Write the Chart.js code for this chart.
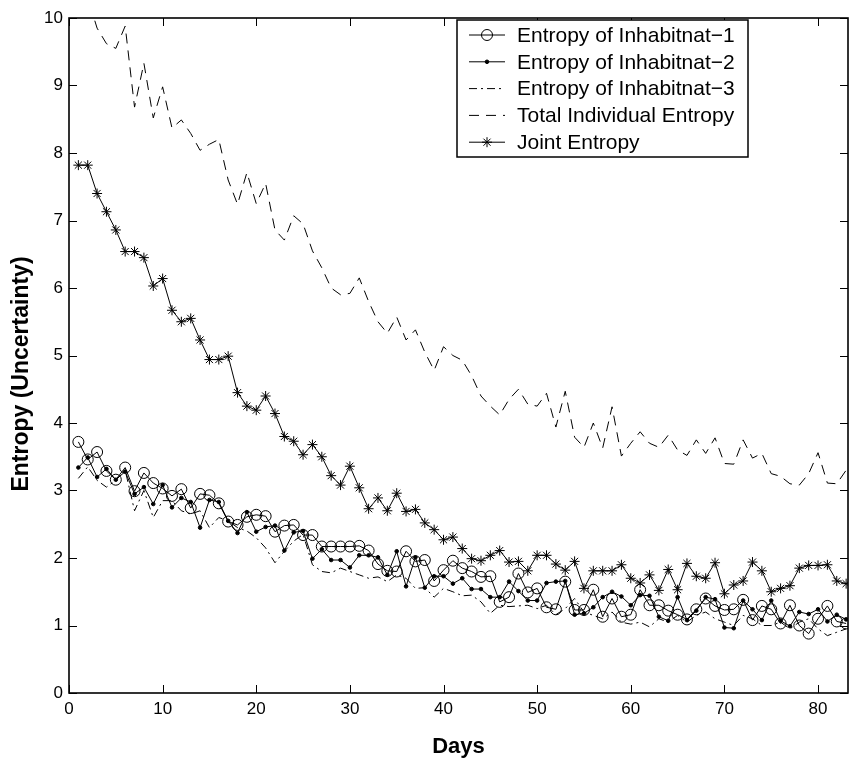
<!DOCTYPE html>
<html>
<head>
<meta charset="utf-8">
<script src="https://cdn.jsdelivr.net/npm/chart.js@4.4.0/dist/chart.umd.min.js"></script>
<style>
  html, body { margin: 0; padding: 0; background: #fff; overflow: hidden; }
  canvas { display: block; }
</style>
</head>
<body>
<canvas id="chart" width="849" height="763"></canvas>
<script>
// days 1..83 on the x axis
const days = Array.from({ length: 83 }, (_, i) => i + 1);
const xTicks = [0, 10, 20, 30, 40, 50, 60, 70, 80];
const yTicks = [0, 1, 2, 3, 4, 5, 6, 7, 8, 9, 10];

const inhabitant1 = [
  3.72, 3.46, 3.57, 3.29, 3.16, 3.34, 2.99, 3.26, 3.11, 3.03,
  2.92, 3.02, 2.74, 2.95, 2.93, 2.81, 2.54, 2.49, 2.61, 2.64,
  2.62, 2.39, 2.48, 2.49, 2.34, 2.34, 2.17, 2.17, 2.17, 2.17,
  2.18, 2.11, 1.91, 1.81, 1.80, 2.10, 1.95, 1.97, 1.66, 1.82,
  1.96, 1.85, 1.80, 1.72, 1.73, 1.35, 1.42, 1.77, 1.49, 1.55,
  1.27, 1.24, 1.65, 1.23, 1.23, 1.53, 1.13, 1.40, 1.13, 1.16,
  1.53, 1.30, 1.30, 1.22, 1.16, 1.09, 1.24, 1.40, 1.29, 1.23,
  1.24, 1.38, 1.08, 1.29, 1.24, 1.03, 1.30, 1.00, 0.88, 1.10,
  1.29, 1.06, 1.03
];
const inhabitant2 = [
  3.34, 3.49, 3.20, 3.32, 3.16, 3.28, 2.95, 3.05, 2.80, 3.08,
  2.75, 2.89, 2.83, 2.45, 2.86, 2.83, 2.55, 2.37, 2.68, 2.39,
  2.46, 2.48, 2.11, 2.38, 2.40, 1.99, 2.13, 1.97, 1.97, 1.86,
  2.04, 2.04, 2.01, 1.75, 2.10, 1.58, 2.01, 1.56, 1.73, 1.73,
  1.62, 1.70, 1.54, 1.54, 1.42, 1.42, 1.65, 1.51, 1.37, 1.37,
  1.63, 1.65, 1.66, 1.16, 1.18, 1.27, 1.42, 1.50, 1.43, 1.30,
  1.45, 1.44, 1.13, 1.07, 1.42, 1.08, 1.22, 1.42, 1.39, 0.97,
  0.96, 1.37, 1.24, 1.08, 1.37, 1.07, 0.99, 1.20, 1.17, 1.24,
  1.06, 1.16, 1.09
];
const inhabitant3 = [
  3.18, 3.35, 3.15, 3.05, 3.15, 3.30, 2.70, 3.00, 2.60, 2.85,
  2.85, 2.70, 2.65, 2.70, 2.45, 2.60, 2.55, 2.45, 2.40, 2.30,
  2.15, 1.93, 2.10, 2.25, 2.35, 1.90, 1.80, 1.78, 1.85, 1.80,
  1.75, 1.70, 1.72, 1.65, 1.75, 1.70, 1.55, 1.56, 1.42, 1.55,
  1.50, 1.44, 1.45, 1.35, 1.18, 1.30, 1.28, 1.29, 1.30, 1.25,
  1.30, 1.16, 1.25, 1.40, 1.20, 1.15, 1.10, 1.20, 1.05, 1.02,
  1.05, 0.98, 1.10, 1.05, 1.15, 1.05, 1.15, 1.20, 1.10, 1.05,
  1.00, 1.15, 1.10, 1.00, 1.00, 1.05, 0.95, 1.05, 1.10, 0.95,
  0.85, 0.90, 0.95
];
const totalIndividual = [
  10.25, 10.30, 9.85, 9.62, 9.55, 9.88, 8.68, 9.33, 8.52, 8.98,
  8.37, 8.49, 8.29, 8.04, 8.13, 8.20, 7.60, 7.24, 7.71, 7.25,
  7.55, 6.86, 6.71, 7.07, 6.95, 6.55, 6.30, 6.00, 5.90, 5.92,
  6.15, 5.80, 5.50, 5.33, 5.57, 5.23, 5.38, 5.05, 4.78, 5.13,
  5.00, 4.93, 4.70, 4.40, 4.25, 4.12, 4.35, 4.50, 4.28, 4.25,
  4.44, 3.94, 4.47, 3.79, 3.64, 4.00, 3.63, 4.24, 3.51, 3.70,
  3.87, 3.70, 3.64, 3.82, 3.60, 3.52, 3.75, 3.55, 3.78, 3.40,
  3.39, 3.75, 3.48, 3.55, 3.25, 3.21, 3.10, 3.08, 3.25, 3.56,
  3.11, 3.10, 3.30
];
const jointEntropy = [
  7.82, 7.82, 7.40, 7.13, 6.86, 6.54, 6.54, 6.45, 6.03, 6.14,
  5.67, 5.50, 5.55, 5.23, 4.94, 4.94, 4.99, 4.45, 4.25, 4.19,
  4.40, 4.14, 3.80, 3.73, 3.53, 3.68, 3.50, 3.22, 3.08, 3.36,
  3.04, 2.73, 2.89, 2.70, 2.96, 2.69, 2.72, 2.52, 2.42, 2.27,
  2.31, 2.14, 1.99, 1.96, 2.04, 2.11, 1.94, 1.95, 1.81, 2.04,
  2.04, 1.91, 1.82, 1.95, 1.55, 1.81, 1.81, 1.81, 1.90, 1.70,
  1.63, 1.75, 1.52, 1.83, 1.53, 1.92, 1.73, 1.70, 1.93, 1.47,
  1.60, 1.66, 1.94, 1.81, 1.50, 1.55, 1.59, 1.85, 1.89, 1.89,
  1.90, 1.66, 1.62
];

Chart.defaults.font.family = "'Liberation Sans', Arial, Helvetica, sans-serif";
Chart.defaults.color = "#000";

// box round the plot with inward tick marks, like the original
const framePlugin = {
  id: "frame",
  afterDatasetsDraw(chart) {
    const { ctx, chartArea: a, scales } = chart;
    const tl = 8;
    ctx.save();
    ctx.strokeStyle = "#000";
    ctx.lineWidth = 1;
    ctx.beginPath();
    xTicks.forEach((v) => {
      const px = Math.round(scales.x.getPixelForValue(v)) + 0.5;
      ctx.moveTo(px, a.bottom); ctx.lineTo(px, a.bottom - tl);
      ctx.moveTo(px, a.top); ctx.lineTo(px, a.top + tl);
    });
    yTicks.forEach((v) => {
      const py = Math.round(scales.y.getPixelForValue(v)) + 0.5;
      ctx.moveTo(a.left, py); ctx.lineTo(a.left + tl, py);
      ctx.moveTo(a.right, py); ctx.lineTo(a.right - tl, py);
    });
    ctx.stroke();
    ctx.lineWidth = 1.6;
    ctx.strokeRect(a.left, a.top, a.right - a.left, a.bottom - a.top);

    // y title sits a little below the middle of the axis in the original
    ctx.fillStyle = "#000";
    ctx.font = "bold 23px 'Liberation Sans', Arial, sans-serif";
    ctx.textAlign = "center";
    ctx.textBaseline = "middle";
    ctx.translate(22, 374);
    ctx.rotate(-Math.PI / 2);
    ctx.fillText("Entropy (Uncertainty)", 0, 0);
    ctx.restore();
  },
};

// legend box inside the plot, top right
const boxLegend = {
  id: "boxLegend",
  afterDraw(chart) {
    const { ctx } = chart;
    const left = 457, top = 20, w = 291, h = 137;
    const rowH = 26.8, firstRow = 35;
    ctx.save();
    ctx.fillStyle = "#fff";
    ctx.fillRect(left, top, w, h);
    ctx.strokeStyle = "#000";
    ctx.lineWidth = 1.5;
    ctx.strokeRect(left, top, w, h);
    ctx.font = "21px 'Liberation Sans', Arial, sans-serif";
    ctx.textBaseline = "middle";
    chart.data.datasets.forEach((ds, i) => {
      const y = firstRow + i * rowH;
      ctx.strokeStyle = "#000";
      ctx.lineWidth = 1;
      ctx.setLineDash(ds.borderDash || []);
      ctx.beginPath();
      ctx.moveTo(469, y);
      ctx.lineTo(505, y);
      ctx.stroke();
      ctx.setLineDash([]);
      if (ds.pointRadius > 0) {
        ctx.fillStyle = ds.pointBackgroundColor;
        ctx.strokeStyle = "#000";
        ctx.lineWidth = 1;
        Chart.helpers.drawPoint(ctx, {
          pointStyle: ds.pointStyle, radius: ds.pointRadius,
          borderWidth: 1, rotation: 0,
        }, 487, y);
      }
      ctx.fillStyle = "#000";
      ctx.fillText(ds.label, 517, y + 1);
    });
    ctx.restore();
  },
};

new Chart(document.getElementById("chart"), {
  type: "line",
  data: {
    labels: days,
    datasets: [
      {
        label: "Entropy of Inhabitnat\u22121",
        data: inhabitant1,
        borderColor: "#000", borderWidth: 1,
        pointStyle: "circle", pointRadius: 5.5,
        pointBorderColor: "#000", pointBackgroundColor: "rgba(0,0,0,0)",
        pointBorderWidth: 1,
      },
      {
        label: "Entropy of Inhabitnat\u22122",
        data: inhabitant2,
        borderColor: "#000", borderWidth: 1,
        pointStyle: "circle", pointRadius: 1.8,
        pointBorderColor: "#000", pointBackgroundColor: "#000",
        pointBorderWidth: 1,
      },
      {
        label: "Entropy of Inhabitnat\u22123",
        data: inhabitant3,
        borderColor: "#000", borderWidth: 1,
        borderDash: [8, 4, 2, 4],
        pointRadius: 0,
      },
      {
        label: "Total Individual Entropy",
        data: totalIndividual,
        borderColor: "#000", borderWidth: 1,
        borderDash: [10, 7],
        pointRadius: 0,
      },
      {
        label: "Joint Entropy",
        data: jointEntropy,
        borderColor: "#000", borderWidth: 1,
        pointStyle: "star", pointRadius: 5,
        pointBorderColor: "#000", pointBackgroundColor: "#000",
        pointBorderWidth: 1,
      },
    ],
  },
  options: {
    responsive: false,
    animation: false,
    events: [],
    // no extra room for markers at the edges, the plot box is fixed
    layout: { autoPadding: false, padding: { top: 18, right: 1, left: 0, bottom: 0 } },
    plugins: {
      legend: { display: false },
      tooltip: { enabled: false },
    },
    scales: {
      x: {
        type: "linear",
        min: 0,
        max: 83.2,
        afterBuildTicks: (scale) => { scale.ticks = xTicks.map((v) => ({ value: v })); },
        afterFit: (scale) => {
          scale.height = 70;
          scale.paddingLeft = 0;
          scale.paddingRight = 0;
        },
        grid: { display: false, drawTicks: false },
        border: { display: false },
        ticks: { font: { size: 17 }, padding: 6, maxRotation: 0 },
        title: {
          display: true, text: "Days",
          font: { size: 22, weight: "bold" },
          padding: { top: 0, bottom: 3 },
        },
      },
      y: {
        min: 0,
        max: 10,
        afterBuildTicks: (scale) => { scale.ticks = yTicks.map((v) => ({ value: v })); },
        afterFit: (scale) => { scale.width = 69; },
        grid: { display: false, drawTicks: false },
        border: { display: false },
        ticks: { font: { size: 17 }, padding: 6 },
      },
    },
  },
  plugins: [framePlugin, boxLegend],
});
</script>
</body>
</html>
